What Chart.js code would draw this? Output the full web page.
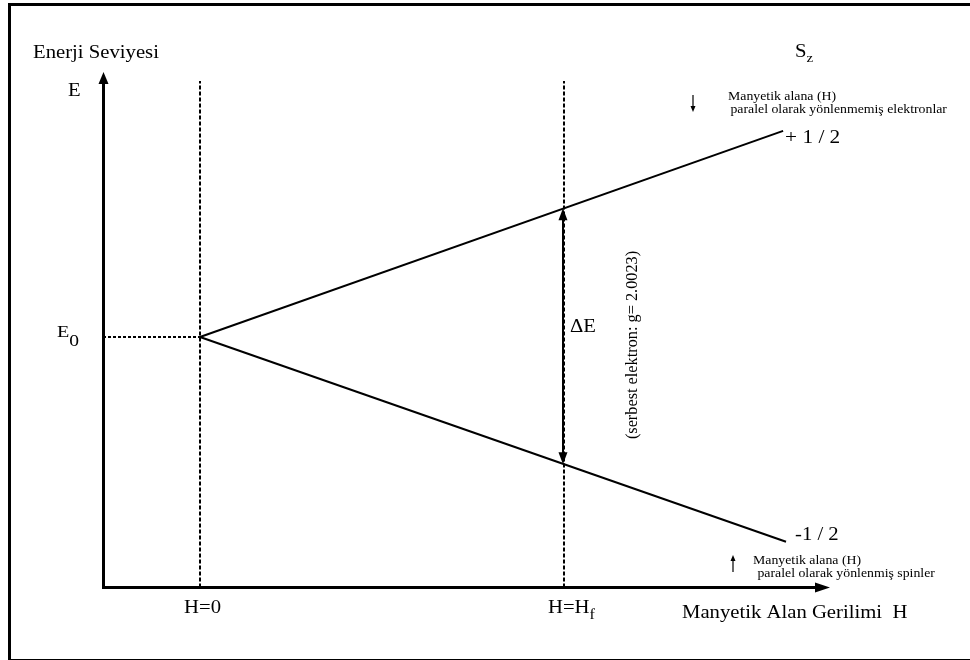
<!DOCTYPE html>
<html>
<head>
<meta charset="utf-8">
<script src="https://cdn.jsdelivr.net/npm/chart.js@4/dist/chart.umd.min.js"></script>
<style>
  html, body { margin: 0; padding: 0; background: #fff; }
  #wrap { width: 970px; height: 660px; }
</style>
</head>
<body>
<div id="wrap"><canvas id="c" width="970" height="660"></canvas></div>
<script>
// Zeeman splitting of a free electron's energy level in a magnetic field H

// Field axis marks: H = 0 and the resonance field H = H_f
const fieldTicks = [0, 1];
const fieldTickLabels = [['H=0', ''], ['H=H', 'f']];

// Energy axis mark: the unsplit level E0
const energyTicks = [0];
const energyTickLabels = [['E', '0']];

// The two spin levels as the field grows
const upperLevel = [{ x: 0, y: 0 }, { x: 1.602, y: 1.61 }];   // S_z = +1/2
const lowerLevel = [{ x: 0, y: 0 }, { x: 1.61, y: -1.60 }];   // S_z = -1/2
const spinLabels = ['+ 1 / 2', '-1 / 2'];

const X_MIN = -0.2665, X_MAX = 1.7308;
const Y_MIN = -1.957, Y_MAX = 2.0703;
const GUIDE_TOP = 2.0;

const SERIF = '"Liberation Serif", "Times New Roman", serif';
const INK = '#000';
const WIDEN = 1.15;   // the lettering is set slightly wide

function levelAt(points, x) {
  const [a, b] = points;
  return a.y + (b.y - a.y) * (x - a.x) / (b.x - a.x);
}

// draws text widened horizontally, returns its drawn width
function wideText(ctx, str, x, y, size) {
  ctx.font = size + 'px ' + SERIF;
  ctx.save();
  ctx.translate(x, y);
  ctx.scale(WIDEN, 1);
  ctx.fillText(str, 0, 0);
  ctx.restore();
  return ctx.measureText(str).width * WIDEN;
}

function subText(ctx, x, y, main, sub, size, subSize, drop) {
  const w = wideText(ctx, main, x, y, size);
  if (sub) wideText(ctx, sub, x + w, y + drop, subSize);
}

function arrowHead(ctx, tipX, tipY, dirX, dirY, len, half) {
  const bx = tipX - dirX * len, by = tipY - dirY * len;
  const px = -dirY, py = dirX;
  ctx.beginPath();
  ctx.moveTo(tipX, tipY);
  ctx.lineTo(bx + px * half, by + py * half);
  ctx.lineTo(bx - px * half, by - py * half);
  ctx.closePath();
  ctx.fill();
}

const guideSets = fieldTicks.map(v => ({
  data: [{ x: v, y: Y_MIN }, { x: v, y: GUIDE_TOP }],
  borderColor: INK, borderWidth: 2, borderDash: [4, 2],
  pointRadius: 0, showLine: true, clip: false
}));
const levelGuideSets = energyTicks.map(v => ({
  data: [{ x: X_MIN, y: v }, { x: fieldTicks[0], y: v }],
  borderColor: INK, borderWidth: 2.2, borderDash: [3, 2],
  pointRadius: 0, showLine: true, clip: false
}));

const diagram = {
  id: 'diagram',
  beforeDraw(chart) {
    const ctx = chart.ctx;
    ctx.save();
    ctx.fillStyle = '#fff';
    ctx.fillRect(0, 0, chart.width, chart.height);
    ctx.fillStyle = INK;
    ctx.fillRect(8, 3, 962, 3);
    ctx.fillRect(8, 3, 3, 657);
    ctx.fillRect(8, 659, 962, 1);
    ctx.restore();
  },
  afterDatasetsDraw(chart) {
    const ctx = chart.ctx;
    const area = chart.chartArea;
    const xs = chart.scales.x, ys = chart.scales.y;
    ctx.save();
    ctx.fillStyle = INK;
    ctx.strokeStyle = INK;
    ctx.setLineDash([]);

    // axes with arrow heads
    const ax = area.left + 0.5, ay = area.bottom;
    ctx.lineWidth = 3;
    ctx.beginPath();
    ctx.moveTo(ax, ay + 1.5);
    ctx.lineTo(ax, area.top + 10);
    ctx.stroke();
    arrowHead(ctx, ax, area.top, 0, -1, 12, 5);
    ctx.beginPath();
    ctx.moveTo(ax - 1.5, ay);
    ctx.lineTo(area.right - 12, ay);
    ctx.stroke();
    arrowHead(ctx, area.right, ay, 1, 0, 15, 5);

    // energy gap arrow at H = H_f
    const hf = fieldTicks[1];
    const gx = xs.getPixelForValue(hf) - 1;
    const gTop = ys.getPixelForValue(levelAt(upperLevel, hf));
    const gBot = ys.getPixelForValue(levelAt(lowerLevel, hf));
    ctx.lineWidth = 2;
    ctx.beginPath();
    ctx.moveTo(gx, gTop + 10);
    ctx.lineTo(gx, gBot - 10);
    ctx.stroke();
    arrowHead(ctx, gx, gTop, 0, -1, 12, 4.5);
    arrowHead(ctx, gx, gBot, 0, 1, 12, 4.5);

    // small spin arrows
    ctx.lineWidth = 1.2;
    ctx.beginPath(); ctx.moveTo(693, 95); ctx.lineTo(693, 107); ctx.stroke();
    arrowHead(ctx, 693, 112, 0, 1, 6, 2.5);
    ctx.beginPath(); ctx.moveTo(733, 572); ctx.lineTo(733, 560); ctx.stroke();
    arrowHead(ctx, 733, 555, 0, -1, 6, 2.5);

    // texts
    ctx.textBaseline = 'alphabetic';
    ctx.textAlign = 'left';
    wideText(ctx, 'Enerji Seviyesi', 33, 58, 18);
    wideText(ctx, 'E', 68, 96, 18);
    subText(ctx, 795, 57, 'S', 'z', 18, 13, 5);

    fieldTicks.forEach((v, i) => {
      const [m, s] = fieldTickLabels[i];
      subText(ctx, xs.getPixelForValue(v) - 16, 613, m, s, 18, 14, 6);
    });
    energyTicks.forEach((v, i) => {
      const [m, s] = energyTickLabels[i];
      subText(ctx, area.left - 46, ys.getPixelForValue(v), m, s, 17.5, 17, 9);
    });

    wideText(ctx, 'Manyetik Alan Gerilimi  H', 682, 618, 18);

    // spin level labels
    const ue = upperLevel[upperLevel.length - 1], le = lowerLevel[lowerLevel.length - 1];
    wideText(ctx, spinLabels[0], xs.getPixelForValue(ue.x) + 2, ys.getPixelForValue(ue.y) + 12, 18.5);
    wideText(ctx, spinLabels[1], xs.getPixelForValue(le.x) + 9, ys.getPixelForValue(le.y) - 2, 18);

    wideText(ctx, 'Manyetik alana (H)', 728, 100, 12);
    wideText(ctx, ' paralel olarak yönlenmemiş elektronlar', 727, 113, 12);
    wideText(ctx, 'Manyetik alana (H)', 753, 564, 12);
    wideText(ctx, ' paralel olarak yönlenmiş spinler', 754, 577, 12);

    wideText(ctx, 'ΔE', gx + 7, 332, 18);

    ctx.save();
    ctx.translate(633, 345);
    ctx.rotate(-Math.PI / 2);
    ctx.textAlign = 'center';
    ctx.textBaseline = 'middle';
    ctx.font = '16.3px ' + SERIF;
    ctx.fillText('(serbest elektron: g= 2.0023)', 0, 0);
    ctx.restore();

    ctx.restore();
  }
};

new Chart(document.getElementById('c'), {
  type: 'scatter',
  data: {
    datasets: [
      ...guideSets,
      ...levelGuideSets,
      { data: upperLevel, borderColor: INK, borderWidth: 2, pointRadius: 0, showLine: true, clip: false },
      { data: lowerLevel, borderColor: INK, borderWidth: 2, pointRadius: 0, showLine: true, clip: false }
    ]
  },
  options: {
    responsive: false,
    devicePixelRatio: 1,
    animation: false,
    layout: { padding: { left: 103, right: 140, top: 72, bottom: 72.5 } },
    plugins: { legend: { display: false }, tooltip: { enabled: false } },
    scales: {
      x: { type: 'linear', min: X_MIN, max: X_MAX, display: false },
      y: { type: 'linear', min: Y_MIN, max: Y_MAX, display: false }
    }
  },
  plugins: [diagram]
});
</script>
</body>
</html>
